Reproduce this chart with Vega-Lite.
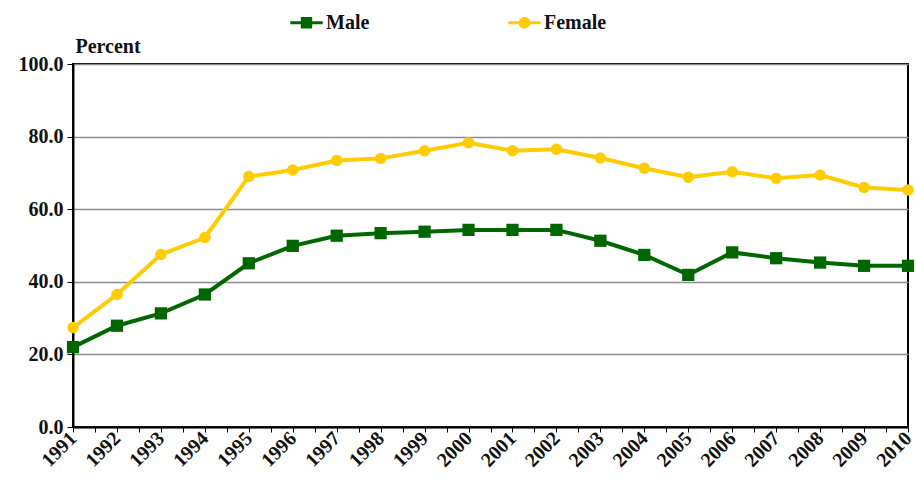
{
  "$schema": "https://vega.github.io/schema/vega-lite/v6.json",
  "autosize": "none",
  "width": 835,
  "height": 363,
  "padding": {"left": 73, "top": 64, "right": 8, "bottom": 58},
  "background": "white",
  "config": {
    "view": {"stroke": "#000000", "strokeWidth": 2},
    "font": "Liberation Serif"
  },
  "data": {
    "values": [
      {"year": 1991, "series": "Male", "value": 22.0},
      {"year": 1992, "series": "Male", "value": 27.9},
      {"year": 1993, "series": "Male", "value": 31.3},
      {"year": 1994, "series": "Male", "value": 36.5},
      {"year": 1995, "series": "Male", "value": 45.1},
      {"year": 1996, "series": "Male", "value": 49.9},
      {"year": 1997, "series": "Male", "value": 52.7},
      {"year": 1998, "series": "Male", "value": 53.4},
      {"year": 1999, "series": "Male", "value": 53.8},
      {"year": 2000, "series": "Male", "value": 54.3},
      {"year": 2001, "series": "Male", "value": 54.3},
      {"year": 2002, "series": "Male", "value": 54.3},
      {"year": 2003, "series": "Male", "value": 51.3},
      {"year": 2004, "series": "Male", "value": 47.4},
      {"year": 2005, "series": "Male", "value": 41.9},
      {"year": 2006, "series": "Male", "value": 48.1},
      {"year": 2007, "series": "Male", "value": 46.5},
      {"year": 2008, "series": "Male", "value": 45.3},
      {"year": 2009, "series": "Male", "value": 44.4},
      {"year": 2010, "series": "Male", "value": 44.4},
      {"year": 1991, "series": "Female", "value": 27.4},
      {"year": 1992, "series": "Female", "value": 36.5},
      {"year": 1993, "series": "Female", "value": 47.5},
      {"year": 1994, "series": "Female", "value": 52.2},
      {"year": 1995, "series": "Female", "value": 69.0},
      {"year": 1996, "series": "Female", "value": 70.8},
      {"year": 1997, "series": "Female", "value": 73.4},
      {"year": 1998, "series": "Female", "value": 74.0},
      {"year": 1999, "series": "Female", "value": 76.1},
      {"year": 2000, "series": "Female", "value": 78.3},
      {"year": 2001, "series": "Female", "value": 76.1},
      {"year": 2002, "series": "Female", "value": 76.5},
      {"year": 2003, "series": "Female", "value": 74.1},
      {"year": 2004, "series": "Female", "value": 71.3},
      {"year": 2005, "series": "Female", "value": 68.8},
      {"year": 2006, "series": "Female", "value": 70.3},
      {"year": 2007, "series": "Female", "value": 68.5},
      {"year": 2008, "series": "Female", "value": 69.4},
      {"year": 2009, "series": "Female", "value": 66.0},
      {"year": 2010, "series": "Female", "value": 65.3}
    ]
  },
  "encoding": {
    "x": {
      "field": "year",
      "type": "quantitative",
      "scale": {"domain": [1991, 2010], "nice": false, "zero": false},
      "axis": {
        "title": null,
        "values": [1991, 1991.5, 1992, 1992.5, 1993, 1993.5, 1994, 1994.5, 1995, 1995.5, 1996, 1996.5, 1997, 1997.5, 1998, 1998.5, 1999, 1999.5, 2000, 2000.5, 2001, 2001.5, 2002, 2002.5, 2003, 2003.5, 2004, 2004.5, 2005, 2005.5, 2006, 2006.5, 2007, 2007.5, 2008, 2008.5, 2009, 2009.5, 2010],
        "labelExpr": "datum.value % 1 === 0 ? format(datum.value, 'd') : ''",
        "labelAngle": -45,
        "labelAlign": "right",
        "labelBaseline": "middle",
        "labelFont": "Liberation Serif",
        "labelFontWeight": "bold",
        "labelFontSize": 20,
        "labelColor": "#111111",
        "labelPadding": 3,
        "labelOverlap": false,
        "labelBound": false,
        "labelFlush": false,
        "grid": false,
        "domainColor": "#000000",
        "domainWidth": 2,
        "tickColor": "#000000",
        "tickSize": 5,
        "tickWidth": 1
      }
    },
    "y": {
      "field": "value",
      "type": "quantitative",
      "scale": {"domain": [0, 100], "nice": false},
      "axis": {
        "values": [0, 20, 40, 60, 80, 100],
        "format": ".1f",
        "title": "Percent",
        "titleAngle": 0,
        "titleAlign": "left",
        "titleBaseline": "bottom",
        "titleX": 2,
        "titleY": -8,
        "titleFont": "Liberation Serif",
        "titleFontWeight": "bold",
        "titleFontSize": 20,
        "titleColor": "#111111",
        "labelFont": "Liberation Serif",
        "labelFontWeight": "bold",
        "labelFontSize": 20,
        "labelColor": "#111111",
        "labelPadding": 4,
        "grid": true,
        "gridColor": "#8c8c8c",
        "gridWidth": 1.5,
        "domainColor": "#000000",
        "domainWidth": 2,
        "tickColor": "#000000",
        "tickSize": 6
      }
    },
    "color": {
      "field": "series",
      "type": "nominal",
      "scale": {"domain": ["Male", "Female"], "range": ["#006600", "#FFCC00"]},
      "legend": {
        "title": null,
        "orient": "none",
        "legendX": 217,
        "legendY": -58,
        "direction": "horizontal",
        "labelFont": "Liberation Serif",
        "labelFontWeight": "bold",
        "labelFontSize": 20,
        "labelColor": "#111111",
        "labelOffset": 3,
        "columnPadding": 138,
        "symbolSize": 1050,
        "symbolStrokeWidth": 0,
        "encode": {
          "symbols": {
            "update": {
              "shape": {"signal": "datum.value === 'Male' ? 'M-1,-0.09H-0.35V0.09H-1Z M0.35,-0.09H1V0.09H0.35Z M-0.35,-0.35H0.35V0.35H-0.35Z' : 'M-1,-0.09H-0.3V0.09H-1Z M0.3,-0.09H1V0.09H0.3Z M-0.36,0A0.36,0.36 0 1,1 0.36,0A0.36,0.36 0 1,1 -0.36,0Z'"},
              "fill": {"signal": "datum.value === 'Male' ? '#006600' : '#FFCC00'"},
              "strokeWidth": {"value": 0},
              "opacity": {"value": 1}
            }
          }
        }
      }
    }
  },
  "layer": [
    {
      "mark": {"type": "line", "strokeWidth": 4, "clip": false}
    },
    {
      "transform": [{"filter": "datum.series === 'Male'"}],
      "mark": {"type": "point", "shape": "square", "filled": true, "size": 150, "opacity": 1, "clip": false}
    },
    {
      "transform": [{"filter": "datum.series === 'Female'"}],
      "mark": {"type": "point", "shape": "circle", "filled": true, "size": 130, "opacity": 1, "clip": false}
    }
  ]
}
